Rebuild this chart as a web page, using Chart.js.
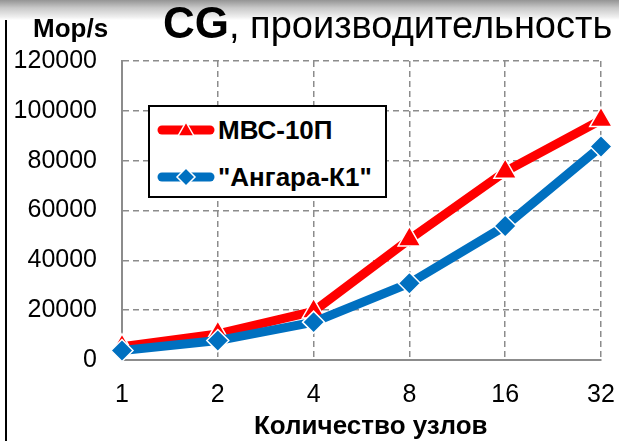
<!DOCTYPE html>
<html lang="ru">
<head>
    <meta charset="UTF-8">
    <title>CG, производительность</title>
    <script src="https://cdn.jsdelivr.net/npm/chart.js"></script>
    <style>
        body { margin: 0; background: #fff; }
        #wrap { position: relative; width: 619px; height: 441px; overflow: hidden; font-family: "Liberation Sans", Arial, sans-serif; }
        #band { position: absolute; left: 0; top: 0; width: 619px; height: 20px;
                background: linear-gradient(to bottom, #949494 0, #c9c9c9 8px, #efefef 17px, #fff 20px); }
        #vline { position: absolute; left: 5px; top: 20px; width: 2px; height: 421px; background: #000; }
        #title { position: absolute; left: 163px; top: -2px; white-space: nowrap; color: #000; }
        #title b { font-size: 44px; }
        #title span { font-size: 38px; }
        #unit { position: absolute; left: 33px; top: 13px; font-size: 26px; font-weight: bold; }
        #xtitle { position: absolute; left: 254px; top: 410px; font-size: 26px; font-weight: bold; white-space: nowrap; }
        #chart { position: absolute; left: 0; top: 0; }
        #legend { position: absolute; left: 148px; top: 105px; width: 235px; height: 89px;
                  border: 2px solid #000; background: #fff; }
        .row { position: absolute; left: 7px; height: 26px; display: flex; align-items: center;
               font-size: 26px; font-weight: bold; white-space: nowrap; }
        .row svg { margin-right: 3px; }
    </style>
</head>
<body>
<div id="wrap">
    <div id="band"></div>
    <div id="vline"></div>
    <canvas id="chart" width="619" height="441"></canvas>
    <div id="title"><b>CG</b><span>, производительность</span></div>
    <div id="unit">Mop/s</div>
    <div id="xtitle">Количество узлов</div>
    <div id="legend">
        <div class="row" style="top:10px">
            <svg width="58" height="26"><line x1="5" y1="13" x2="53" y2="13" stroke="#ff0000" stroke-width="9" stroke-linecap="round"/>
                <polygon points="29,5 37,19 21,19" fill="#ff0000" stroke="#fff" stroke-width="1.5"/></svg>
            <span>МВС-10П</span>
        </div>
        <div class="row" style="top:57px">
            <svg width="58" height="26"><line x1="5" y1="13" x2="53" y2="13" stroke="#0070c0" stroke-width="9" stroke-linecap="round"/>
                <polygon points="29,4 38,13 29,22 20,13" fill="#0070c0" stroke="#fff" stroke-width="1.5"/></svg>
            <span>"Ангара-К1"</span>
        </div>
    </div>
</div>

<script>
    // количество узлов
    const nodes = ['1', '2', '4', '8', '16', '32'];
    // Mop/s
    const mvs10p = [5300, 10500, 19500, 48400, 75600, 96300];
    const angara = [3800, 7800, 15200, 30800, 53800, 85700];
    const yTicks = [0, 20000, 40000, 60000, 80000, 100000, 120000];

    const seriesNames = ['МВС-10П', '"Ангара-К1"'];
    const fontFamily = '"Liberation Sans", Arial, sans-serif';

    Chart.defaults.font.family = fontFamily;
    Chart.defaults.color = '#000';

    new Chart(document.getElementById('chart'), {
        type: 'line',
        data: {
            labels: nodes,
            datasets: [{
                label: seriesNames[1],
                data: angara,
                borderColor: '#0070c0',
                backgroundColor: '#0070c0',
                borderWidth: 9,
                pointStyle: 'rectRot',
                pointRadius: 11,
                pointBorderColor: '#fff',
                pointBorderWidth: 1.5,
                tension: 0,
                clip: false,
                order: 0
            }, {
                label: seriesNames[0],
                data: mvs10p,
                borderColor: '#ff0000',
                backgroundColor: '#ff0000',
                borderWidth: 9,
                pointStyle: 'triangle',
                pointRadius: 13,
                pointBorderColor: '#fff',
                pointBorderWidth: 1.5,
                tension: 0,
                clip: false,
                order: 1
            }]
        },
        options: {
            responsive: false,
            animation: false,
            events: [],
            layout: { padding: { left: 0, top: 61, right: 18, bottom: 0 } },
            plugins: {
                legend: { display: false },
                tooltip: { enabled: false }
            },
            scales: {
                x: {
                    offset: false,
                    afterFit: s => { s.height = 81; s.paddingLeft = 0; s.paddingRight = 0; },
                    grid: { color: '#8c8c8c', lineWidth: 1.5, drawTicks: false },
                    border: { color: '#8c8c8c', width: 2, dash: [6, 4] },
                    ticks: { font: { size: 25 }, padding: 20, maxRotation: 0 }
                },
                y: {
                    min: 0,
                    max: 120000,
                    afterFit: s => { s.width = 122; s.paddingTop = 0; s.paddingBottom = 0; },
                    afterBuildTicks: s => { s.ticks = yTicks.map(v => ({ value: v })); },
                    grid: { color: '#8c8c8c', lineWidth: 1.5, drawTicks: false },
                    border: { color: '#8c8c8c', width: 2, dash: [6, 4] },
                    ticks: { font: { size: 25 }, padding: 25, callback: v => String(v) }
                }
            }
        }
    });
</script>
</body>
</html>
